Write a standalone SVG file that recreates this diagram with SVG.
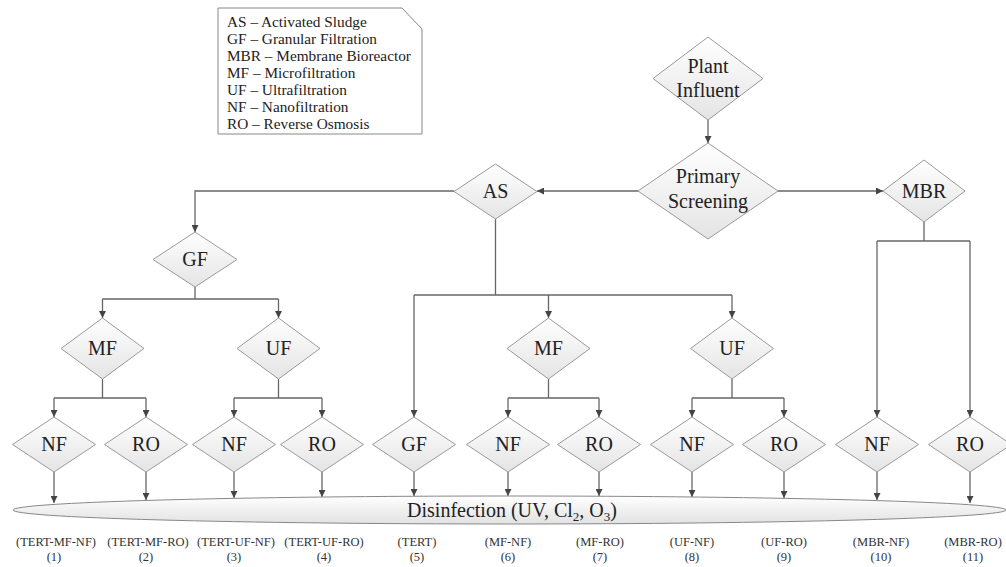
<svg xmlns="http://www.w3.org/2000/svg" width="1006" height="567" viewBox="0 0 1006 567">
<style>
text{font-family:'Liberation Serif','Times New Roman','DejaVu Serif',serif}
.d{fill:url(#dg);stroke:#9a9a9a;stroke-width:1}
.t{font-size:20px;fill:#222;text-anchor:middle}
.lg{font-size:15.3px;fill:#222}
.lb{font-size:12.5px;fill:#333;text-anchor:middle}
.c{fill:none;stroke:#666;stroke-width:1.3}
.a{fill:none;stroke:#666;stroke-width:1.3;marker-end:url(#ah)}
</style>
<defs>
<linearGradient id="dg" x1="0" y1="0" x2="0" y2="1">
<stop offset="0" stop-color="#ffffff"/>
<stop offset="1" stop-color="#e4e4e4"/>
</linearGradient>
<linearGradient id="eg" x1="0" y1="0" x2="0" y2="1">
<stop offset="0" stop-color="#ffffff"/>
<stop offset="1" stop-color="#e2e2e2"/>
</linearGradient>
<marker id="ah" viewBox="0 0 10 10" refX="10" refY="5" markerWidth="7" markerHeight="7" markerUnits="userSpaceOnUse" orient="auto">
<path d="M0,0 L10,5 L0,10 z" fill="#444"/>
</marker>
</defs>
<rect width="1006" height="567" fill="#ffffff"/>

<g id="legend" font-family="Liberation Serif, serif">
<path d="M218,8 H402 L422,29 V134 H218 Z" fill="#ffffff" stroke="#888" stroke-width="1"/>
<text class="lg" x="227" y="27">AS – Activated Sludge</text>
<text class="lg" x="227" y="44">GF – Granular Filtration</text>
<text class="lg" x="227" y="61">MBR – Membrane Bioreactor</text>
<text class="lg" x="227" y="78">MF – Microfiltration</text>
<text class="lg" x="227" y="95">UF – Ultrafiltration</text>
<text class="lg" x="227" y="112">NF – Nanofiltration</text>
<text class="lg" x="227" y="129">RO – Reverse Osmosis</text>
</g>

<g id="connectors">
<path class="a" d="M708,120 V143"/>
<path class="a" d="M638,191 H537"/>
<path class="a" d="M778,191 H883"/>
<path class="a" d="M454,191 H195 V232"/>
<path class="c" d="M195,287 V299 M102.5,299 H278.5"/>
<path class="a" d="M102.5,299 V318"/>
<path class="a" d="M278.5,299 V318"/>
<path class="c" d="M102.5,379 V398 M54,398 H146"/>
<path class="a" d="M54,398 V417"/>
<path class="a" d="M146,398 V417"/>
<path class="c" d="M278.5,379 V398 M234,398 H322"/>
<path class="a" d="M234,398 V417"/>
<path class="a" d="M322,398 V417"/>
<path class="c" d="M495.5,219 V295 M414,295 H732"/>
<path class="a" d="M414,295 V417"/>
<path class="a" d="M548.5,295 V318"/>
<path class="a" d="M732,295 V318"/>
<path class="c" d="M548.5,379 V398 M508,398 H599"/>
<path class="a" d="M508,398 V417"/>
<path class="a" d="M599,398 V417"/>
<path class="c" d="M732,379 V398 M692,398 H784"/>
<path class="a" d="M692,398 V417"/>
<path class="a" d="M784,398 V417"/>
<path class="c" d="M924,222 V241 M877,241 H970"/>
<path class="a" d="M877,241 V417"/>
<path class="a" d="M970,241 V417"/>
<path class="a" d="M54,472 V503"/>
<path class="a" d="M146,472 V500"/>
<path class="a" d="M234,472 V498"/>
<path class="a" d="M322,472 V497"/>
<path class="a" d="M414,472 V496"/>
<path class="a" d="M508,472 V496"/>
<path class="a" d="M599,472 V496"/>
<path class="a" d="M692,472 V497"/>
<path class="a" d="M784,472 V498"/>
<path class="a" d="M877,472 V500"/>
<path class="a" d="M970,472 V503"/>
</g>

<g id="plant-influent">
<path class="d" d="M708,37 L763,78.5 L708,120 L653,78.5 Z"/>
<text class="t" x="708" y="73">Plant</text>
<text class="t" x="708" y="97">Influent</text>
</g>
<g id="primary-screening">
<path class="d" d="M708,143 L778,191 L708,239 L638,191 Z"/>
<text class="t" x="708" y="183">Primary</text>
<text class="t" x="708" y="208">Screening</text>
</g>
<g id="as">
<path class="d" d="M495.5,164 L537,191.5 L495.5,219 L454,191.5 Z"/>
<text class="t" x="495.5" y="198">AS</text>
</g>
<g id="mbr">
<path class="d" d="M924,160 L965,191 L924,222 L883,191 Z"/>
<text class="t" x="924" y="198">MBR</text>
</g>
<g id="gf-top">
<path class="d" d="M195,232 L237,259.5 L195,287 L153,259.5 Z"/>
<text class="t" x="195" y="266">GF</text>
</g>
<g id="mf-left">
<path class="d" d="M102.5,318 L144,348.5 L102.5,379 L61,348.5 Z"/>
<text class="t" x="102.5" y="355">MF</text>
</g>
<g id="uf-left">
<path class="d" d="M278.5,318 L320,348.5 L278.5,379 L237,348.5 Z"/>
<text class="t" x="278.5" y="355">UF</text>
</g>
<g id="mf-mid">
<path class="d" d="M548.5,318 L590,348.5 L548.5,379 L507,348.5 Z"/>
<text class="t" x="548.5" y="355">MF</text>
</g>
<g id="uf-mid">
<path class="d" d="M732,318 L773.5,348.5 L732,379 L690.5,348.5 Z"/>
<text class="t" x="732" y="355">UF</text>
</g>

<g id="nf1"><path class="d" d="M54,417 L95.5,444.5 L54,472 L12.5,444.5 Z"/><text class="t" x="54" y="451">NF</text></g>
<g id="ro2"><path class="d" d="M146,417 L187.5,444.5 L146,472 L104.5,444.5 Z"/><text class="t" x="146" y="451">RO</text></g>
<g id="nf3"><path class="d" d="M234,417 L275.5,444.5 L234,472 L192.5,444.5 Z"/><text class="t" x="234" y="451">NF</text></g>
<g id="ro4"><path class="d" d="M322,417 L363.5,444.5 L322,472 L280.5,444.5 Z"/><text class="t" x="322" y="451">RO</text></g>
<g id="gf5"><path class="d" d="M414,417 L455.5,444.5 L414,472 L372.5,444.5 Z"/><text class="t" x="414" y="451">GF</text></g>
<g id="nf6"><path class="d" d="M508,417 L549.5,444.5 L508,472 L466.5,444.5 Z"/><text class="t" x="508" y="451">NF</text></g>
<g id="ro7"><path class="d" d="M599,417 L640.5,444.5 L599,472 L557.5,444.5 Z"/><text class="t" x="599" y="451">RO</text></g>
<g id="nf8"><path class="d" d="M692,417 L733.5,444.5 L692,472 L650.5,444.5 Z"/><text class="t" x="692" y="451">NF</text></g>
<g id="ro9"><path class="d" d="M784,417 L825.5,444.5 L784,472 L742.5,444.5 Z"/><text class="t" x="784" y="451">RO</text></g>
<g id="nf10"><path class="d" d="M877,417 L918.5,444.5 L877,472 L835.5,444.5 Z"/><text class="t" x="877" y="451">NF</text></g>
<g id="ro11"><path class="d" d="M970,417 L1011.5,444.5 L970,472 L928.5,444.5 Z"/><text class="t" x="970" y="451">RO</text></g>

<g id="disinfection">
<ellipse cx="509.5" cy="510" rx="496.5" ry="14" fill="url(#eg)" stroke="#888" stroke-width="1"/>
<text class="t" x="512" y="517">Disinfection (UV, Cl<tspan font-size="13" dy="4">2</tspan><tspan dy="-4">, O</tspan><tspan font-size="13" dy="4">3</tspan><tspan dy="-4">)</tspan></text>
</g>

<g id="labels">
<text class="lb" x="56" y="546">(TERT-MF-NF)</text><text class="lb" x="54" y="561">(1)</text>
<text class="lb" x="148" y="546">(TERT-MF-RO)</text><text class="lb" x="146" y="561">(2)</text>
<text class="lb" x="236" y="546">(TERT-UF-NF)</text><text class="lb" x="234" y="561">(3)</text>
<text class="lb" x="324" y="546">(TERT-UF-RO)</text><text class="lb" x="324" y="561">(4)</text>
<text class="lb" x="417" y="546">(TERT)</text><text class="lb" x="417" y="561">(5)</text>
<text class="lb" x="508" y="546">(MF-NF)</text><text class="lb" x="508" y="561">(6)</text>
<text class="lb" x="600" y="546">(MF-RO)</text><text class="lb" x="600" y="561">(7)</text>
<text class="lb" x="692" y="546">(UF-NF)</text><text class="lb" x="692" y="561">(8)</text>
<text class="lb" x="784" y="546">(UF-RO)</text><text class="lb" x="784" y="561">(9)</text>
<text class="lb" x="881" y="546">(MBR-NF)</text><text class="lb" x="881" y="561">(10)</text>
<text class="lb" x="973" y="546">(MBR-RO)</text><text class="lb" x="973" y="561">(11)</text>
</g>
</svg>
